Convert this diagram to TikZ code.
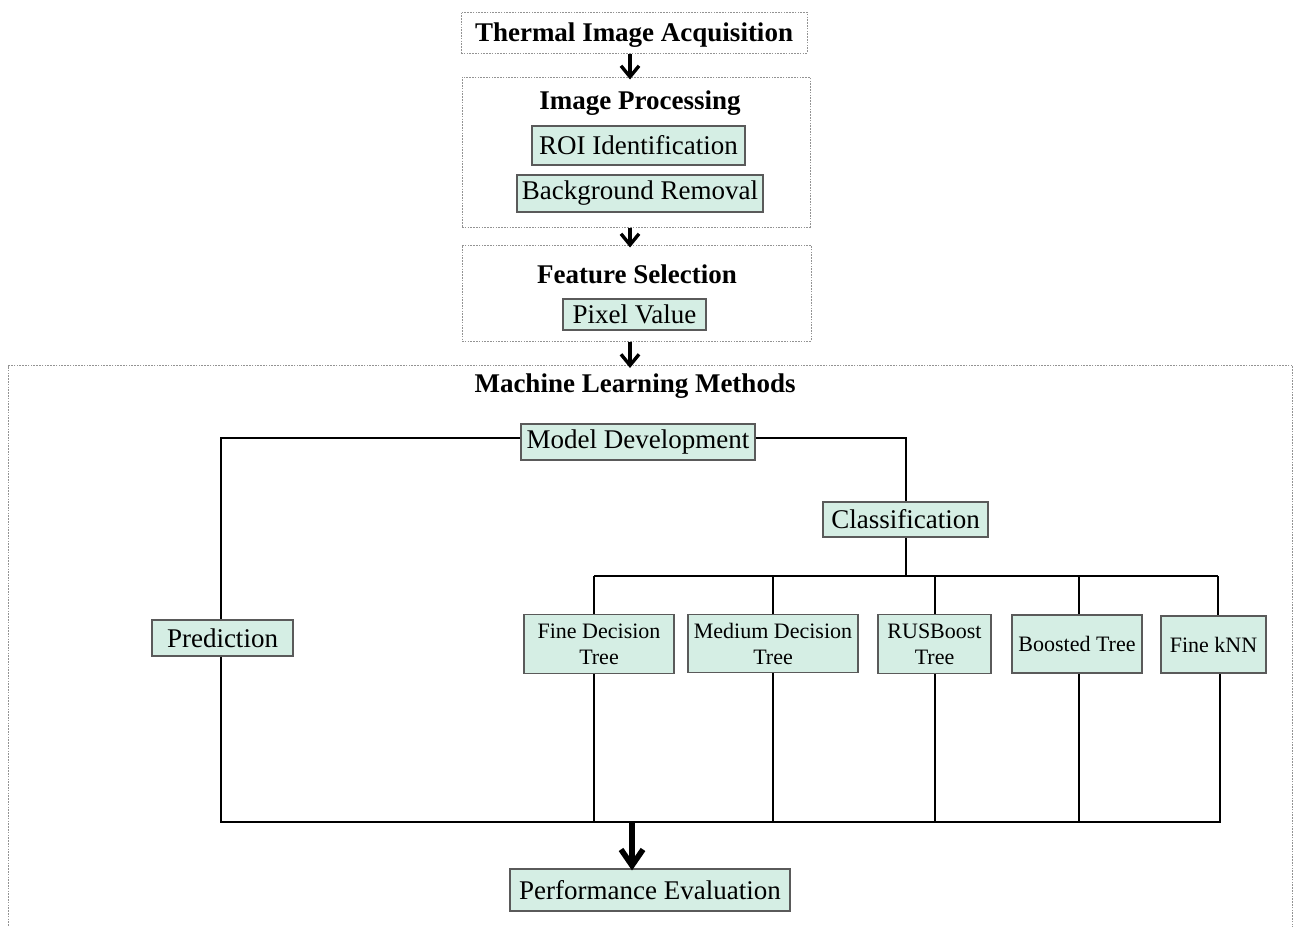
\documentclass[tikz,border=0pt]{standalone}
\usepackage{fontspec}
\setmainfont{Liberation Serif}
\usetikzlibrary{arrows.meta}
\definecolor{boxgreen}{HTML}{D5EEE4}
\definecolor{boxedge}{HTML}{5A5A5A}
\begin{document}
\begin{tikzpicture}[x=0.5pt,y=-0.5pt,
  grp/.style={draw=gray!85, dash pattern=on 0.8pt off 0.6pt, line width=0.5pt, inner sep=0pt},
  ttl/.style={font=\fontsize{13.5}{15}\selectfont\bfseries, inner sep=0pt},
  gbox/.style={draw=boxedge, fill=boxgreen, line width=0.6pt, font=\fontsize{13.5}{15}\selectfont, inner sep=0pt},
  sbox/.style={draw=boxedge, fill=boxgreen, line width=0.6pt, font=\fontsize{11}{13}\selectfont, align=center, inner sep=0pt},
  link/.style={draw=black, line width=0.85pt},
  arr/.style={line width=1.7pt, -{Straight Barb[length=5.5pt,width=9pt]}},
  bigarr/.style={line width=2.8pt, -{Straight Barb[length=8pt,width=11pt]}}]
\clip (0,0) rectangle (1293,926);
\fill[white] (0,0) rectangle (1293,926);

% top pipeline
\node[grp, minimum width=173pt, minimum height=20.5pt] (acq) at (634,32.5) {};
\node[ttl] (acqtitle) at (634,35) {Thermal Image Acquisition};

\node[grp, minimum width=174pt, minimum height=75pt] (ip) at (636,152) {};
\node[ttl] (iptitle) at (640,103) {Image Processing};
\node[gbox, minimum width=106.5pt, minimum height=19.5pt] (roi) at (638.5,145.5) {ROI Identification};
\node[gbox, minimum width=123pt, minimum height=18.5pt] (bg) at (640,193.5) {Background Removal};

\node[grp, minimum width=174.5pt, minimum height=48pt] (fs) at (636.5,293) {};
\node[ttl] (fstitle) at (637,274) {Feature Selection};
\node[gbox, minimum width=71.5pt, minimum height=15.5pt] (pix) at (634.5,314.5) {Pixel Value};

\node[grp, minimum width=642pt, minimum height=300pt, anchor=north west] (ml) at (8,365) {};
\node[ttl] (mltitle) at (635,386) {Machine Learning Methods};

% machine learning part
\node[gbox, minimum width=117pt, minimum height=18pt] (md) at (638,442) {Model Development};
\node[gbox, minimum width=82.5pt, minimum height=17.5pt] (cls) at (905.5,519.5) {Classification};
\node[gbox, minimum width=70.5pt, minimum height=18pt] (pred) at (222.5,638) {Prediction};
\node[sbox, minimum width=75pt, minimum height=29.5pt] (fdt) at (599,644) {Fine Decision\\Tree};
\node[sbox, minimum width=85pt, minimum height=29pt] (mdt) at (773,643.5) {Medium Decision\\Tree};
\node[sbox, minimum width=56.5pt, minimum height=29.5pt] (rus) at (934.5,644) {RUSBoost\\Tree};
\node[sbox, minimum width=65pt, minimum height=29pt] (bst) at (1077,644) {Boosted Tree};
\node[sbox, minimum width=52.5pt, minimum height=28.5pt] (knn) at (1213.5,644.5) {Fine kNN};
\node[gbox, minimum width=140pt, minimum height=21pt] (perf) at (650,890) {Performance Evaluation};

% arrows of the pipeline
\coordinate (ax) at (630,0);
\draw[arr] (acq.south -| ax) -- ([yshift=-1.5pt]ip.north -| ax);
\draw[arr] (ip.south -| ax) -- ([yshift=-1.5pt]fs.north -| ax);
\draw[arr] (fs.south -| ax) -- ([yshift=-1.5pt]ml.north -| ax);

% tree connectors
\coordinate (mdl) at (221,438);
\coordinate (mdr) at (906,438);
\draw[link] (md.west |- mdl) -- (mdl) -- (mdl |- pred.north);
\draw[link] (md.east |- mdr) -- (mdr) -- (mdr |- cls.north);

\coordinate (tbL) at (594,576);
\coordinate (tbM) at (773,576);
\coordinate (tbR) at (935,576);
\coordinate (tbB) at (1079,576);
\coordinate (tbK) at (1218,576);
\draw[link] (cls.south -| mdr) -- (mdr |- tbL);
\draw[link] (tbL) -- (tbK);
\draw[link] (tbL) -- (tbL |- fdt.north);
\draw[link] (tbM) -- (tbM |- mdt.north);
\draw[link] (tbR) -- (tbR |- rus.north);
\draw[link] (tbB) -- (tbB |- bst.north);
\draw[link] (tbK) -- (tbK |- knn.north);

\coordinate (bbL) at (221,822);
\coordinate (bbR) at (1220,822);
\draw[link] (pred.south -| bbL) -- (bbL) -- (bbR) -- (bbR |- knn.south);
\draw[link] (fdt.south -| tbL) -- (tbL |- bbL);
\draw[link] (mdt.south -| tbM) -- (tbM |- bbL);
\draw[link] (rus.south -| tbR) -- (tbR |- bbL);
\draw[link] (bst.south -| tbB) -- (tbB |- bbL);

\coordinate (ba) at (632,822);
\draw[bigarr] (ba) -- ([yshift=-1pt]perf.north -| ba);
\end{tikzpicture}
\end{document}
